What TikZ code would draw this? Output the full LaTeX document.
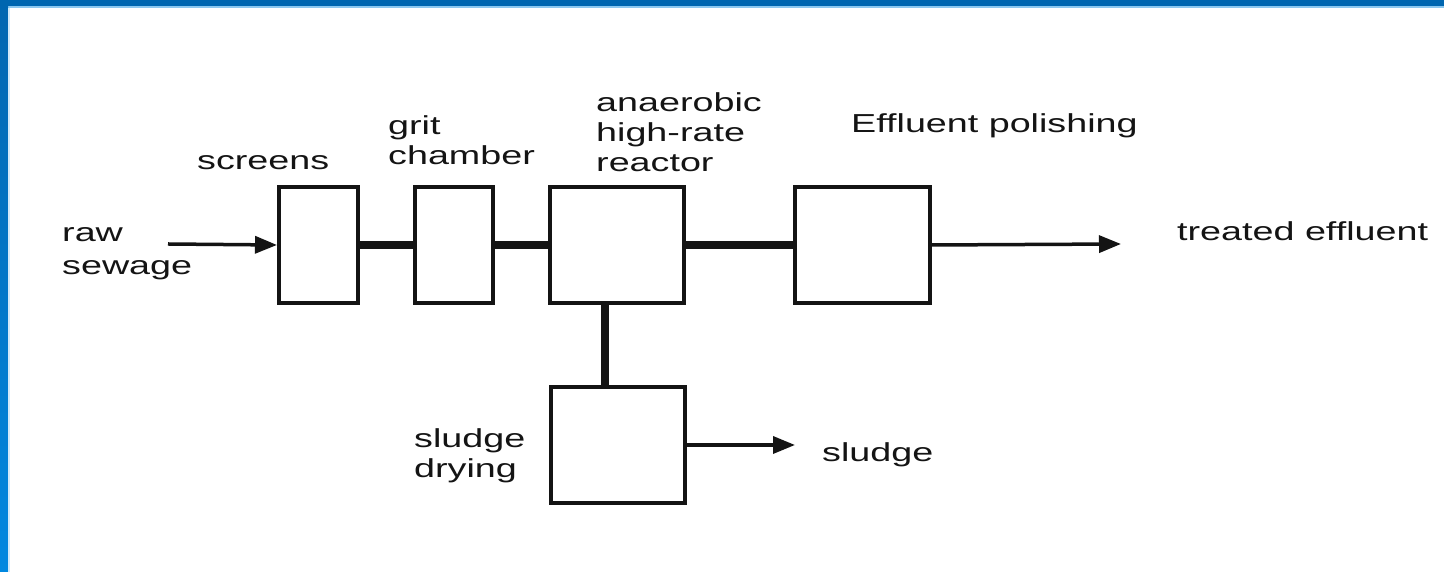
\documentclass[tikz,border=0pt]{standalone}
\usepackage{fontspec}
\setmainfont{Liberation Sans}
\usepackage{graphicx}
\usetikzlibrary{arrows.meta,calc}
\definecolor{framedark}{HTML}{0066B0}
\definecolor{framelight}{HTML}{0088E0}
\definecolor{framepale}{HTML}{8CC8F0}
\definecolor{ink}{HTML}{141414}
\newcommand{\wide}[1]{\scalebox{1.45}[1]{#1}}
\begin{document}
\begin{tikzpicture}[x=1pt,y=1pt,
  unit/.style={draw=ink, line width=4pt, minimum width=#1, minimum height=116pt, inner sep=0pt},
  pipe/.style={draw=ink, line width=7.5pt},
  flow/.style={draw=ink, line width=3.5pt, -{Triangle[length=22pt,width=17pt]}},
  lbl/.style={text=ink, font=\fontsize{26}{30}\selectfont, inner sep=0pt, align=left, anchor=base west}]
\useasboundingbox (0,0) rectangle (1444,572);
\fill[white] (0,0) rectangle (1444,572);
% slide frame
\fill[framedark] (0,566) rectangle (1444,572);
\fill[framepale] (8,564) rectangle (1444,566);
\shade[top color=framedark, bottom color=framelight] (0,0) rectangle (8,572);
\fill[framepale!40] (8,0) rectangle (10,564);

% process units
\node[unit=79pt]  (scr)  at (318.5,327) {};
\node[unit=78pt]  (grit) at (454,327) {};
\node[unit=134pt] (reac) at (617,327) {};
\node[unit=135pt] (pol)  at (862.5,327) {};
\node[unit=134pt] (dry)  at (618,127) {};

% pipes between units
\draw[pipe] (scr.east) -- (grit.west);
\draw[pipe] (grit.east) -- (reac.west);
\draw[pipe] (reac.east) -- (pol.west);
\draw[pipe] ([xshift=-12pt]reac.south) -- ([xshift=-13pt]dry.north);

% inflow and outflows
\coordinate (rawin) at (168,328);
\coordinate (effout) at (1121,328);
\coordinate (sludgeout) at (795,127);
\draw[flow] (rawin) -- (scr.west);
\draw[flow] (pol.east) -- (effout);
\draw[flow] (dry.east) -- (sludgeout);

% labels (multi-line labels are placed by the baseline of their last line)
\node[lbl, font=\fontsize{26}{33}\selectfont] (lraw) at (62,297) {\wide{raw}\\\wide{sewage}};
\node[lbl] (lscr)  at (197,402) {\wide{screens}};
\node[lbl] (lgrit) at (388,407) {\wide{grit}\\\wide{chamber}};
\node[lbl] (lreac) at (596,400) {\wide{anaerobic}\\\wide{high-rate}\\\wide{reactor}};
\node[lbl] (lpol)  at (851,439) {\wide{Effluent polishing}};
\node[lbl] (leff)  at (1177,331) {\wide{treated effluent}};
\node[lbl] (ldry)  at (414,94)  {\wide{sludge}\\\wide{drying}};
\node[lbl] (lsl)   at (822,110) {\wide{sludge}};
\end{tikzpicture}
\end{document}
